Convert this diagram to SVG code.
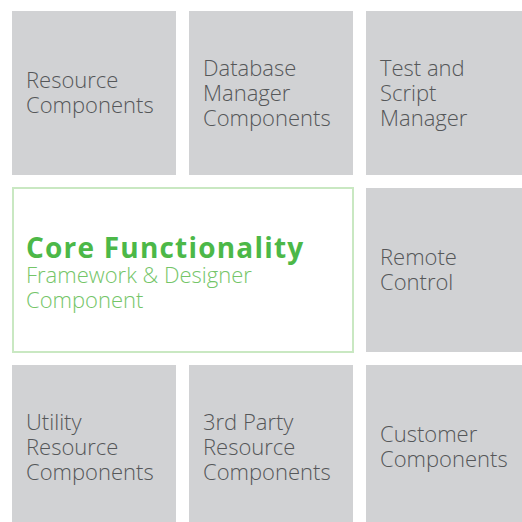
<svg xmlns="http://www.w3.org/2000/svg" width="522" height="522" viewBox="0 0 522 522">
<style>
.box{fill:#d1d2d4}
.t{font-family:"Open Sans","Liberation Sans",sans-serif;font-weight:300;font-size:22px;fill:#555759}
.h{font-family:"Open Sans","Liberation Sans",sans-serif;font-weight:700;font-size:28px;letter-spacing:1.2px;fill:#4cb848}
.s{font-family:"Open Sans","Liberation Sans",sans-serif;font-weight:300;font-size:22px;fill:#74c568}
</style>
<rect width="522" height="522" fill="#ffffff"/>
<g id="resource"><rect class="box" x="12" y="11" width="164" height="164"/><text class="t"><tspan x="26" y="88">Resource</tspan><tspan x="26" y="113">Components</tspan></text></g>
<g id="database"><rect class="box" x="189" y="11" width="164" height="164"/><text class="t"><tspan x="203" y="76">Database</tspan><tspan x="203" y="101">Manager</tspan><tspan x="203" y="126">Components</tspan></text></g>
<g id="test"><rect class="box" x="366" y="11" width="156" height="164"/><text class="t"><tspan x="380" y="76">Test and</tspan><tspan x="380" y="101">Script</tspan><tspan x="380" y="126">Manager</tspan></text></g>
<g id="core"><rect x="13" y="188" width="340" height="164" fill="#ffffff" stroke="#c9e8c2" stroke-width="2"/><text class="h" x="26" y="258">Core Functionality</text><text class="s"><tspan x="26" y="283">Framework &amp; Designer</tspan><tspan x="26" y="308">Component</tspan></text></g>
<g id="remote"><rect class="box" x="366" y="188" width="156" height="164"/><text class="t"><tspan x="380" y="265">Remote</tspan><tspan x="380" y="290">Control</tspan></text></g>
<g id="utility"><rect class="box" x="12" y="365" width="164" height="157"/><text class="t"><tspan x="26" y="430">Utility</tspan><tspan x="26" y="455">Resource</tspan><tspan x="26" y="480">Components</tspan></text></g>
<g id="thirdparty"><rect class="box" x="189" y="365" width="164" height="157"/><text class="t"><tspan x="203" y="430">3rd Party</tspan><tspan x="203" y="455">Resource</tspan><tspan x="203" y="480">Components</tspan></text></g>
<g id="customer"><rect class="box" x="366" y="365" width="156" height="157"/><text class="t"><tspan x="380" y="442">Customer</tspan><tspan x="380" y="467">Components</tspan></text></g>
<g id="connectors"></g>
</svg>
